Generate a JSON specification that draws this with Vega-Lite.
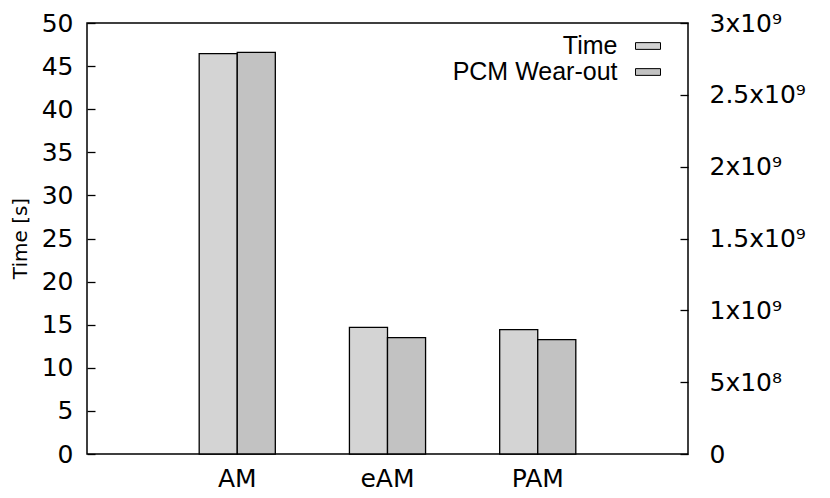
{
  "$schema": "https://vega.github.io/schema/vega-lite/v6.json",
  "description": "Time and PCM wear-out for AM, eAM and PAM.",
  "width": 601,
  "height": 431,
  "autosize": {"type": "none"},
  "padding": {"left": 87, "top": 23, "right": 142, "bottom": 44},
  "title": {
    "text": "Time [s]",
    "orient": "left",
    "anchor": "middle",
    "font": "DejaVu Sans",
    "fontSize": {"expr": "20"},
    "fontWeight": "normal",
    "color": "black",
    "offset": 10,
    "limit": 400
  },
  "config": {
    "font": "DejaVu Sans",
    "title": {"fontSize": 20},
    "view": {"stroke": "black", "strokeWidth": 1.5},
    "axis": {
      "labelColor": "black",
      "tickColor": "black",
      "grid": false,
      "domain": false
    }
  },
  "data": {
    "values": [
      {"cat": "AM", "series": "Time", "value": 46.45},
      {"cat": "eAM", "series": "Time", "value": 14.69},
      {"cat": "PAM", "series": "Time", "value": 14.43},
      {"cat": "AM", "series": "PCM Wear-out", "value": 2796000000},
      {"cat": "eAM", "series": "PCM Wear-out", "value": 810000000},
      {"cat": "PAM", "series": "PCM Wear-out", "value": 796000000}
    ]
  },
  "encoding": {
    "x": {
      "field": "cat",
      "type": "nominal",
      "sort": ["AM", "eAM", "PAM"],
      "scale": {"paddingInner": 0.4933, "paddingOuter": 0.7467},
      "axis": {"title": null, "labelAngle": 0, "ticks": false, "labelFontSize": 25, "labelPadding": 12}
    },
    "xOffset": {
      "field": "series",
      "type": "nominal",
      "scale": {"domain": ["Time", "PCM Wear-out"], "paddingInner": 0, "paddingOuter": 0}
    },
    "color": {
      "field": "series",
      "type": "nominal",
      "scale": {"domain": ["Time", "PCM Wear-out"], "range": ["#d4d4d4", "#c2c2c2"]},
      "legend": {
        "title": null,
        "orient": "none",
        "legendX": 548,
        "legendY": 10,
        "padding": 0,
        "rowPadding": 0,
        "symbolType": "M-1,-0.27H1V0.27H-1Z",
        "symbolSize": 625,
        "symbolStrokeColor": "black",
        "symbolStrokeWidth": 1,
        "symbolOpacity": 1,
        "labelFont": "Liberation Sans",
        "labelFontSize": 25,
        "labelColor": "black",
        "labelAlign": "right",
        "labelOffset": -43.5,
        "labelLimit": 400
      }
    }
  },
  "layer": [
    {
      "transform": [{"filter": "datum.series == 'Time'"}],
      "mark": {"type": "bar", "stroke": "black", "strokeWidth": 1.3, "opacity": 1},
      "encoding": {
        "y": {
          "field": "value",
          "type": "quantitative",
          "title": null,
          "scale": {"domain": [0, 50], "nice": false},
          "axis": {
            "values": [0, 5, 10, 15, 20, 25, 30, 35, 40, 45, 50],
            "labelFontSize": 25,
            "tickSize": -8,
            "tickWidth": 1.3,
            "labelPadding": 22
          }
        }
      }
    },
    {
      "transform": [{"filter": "datum.series == 'PCM Wear-out'"}],
      "mark": {"type": "bar", "stroke": "black", "strokeWidth": 1.3, "opacity": 1},
      "encoding": {
        "y": {
          "field": "value",
          "type": "quantitative",
          "title": null,
          "scale": {"domain": [0, 3000000000], "nice": false},
          "axis": {
            "orient": "right",
            "values": [0, 500000000, 1000000000, 1500000000, 2000000000, 2500000000, 3000000000],
            "labelExpr": "datum.value == 0 ? '0' : datum.value == 500000000 ? '5x10⁸' : format(datum.value / 1000000000, '~g') + 'x10⁹'",
            "labelFontSize": 25,
            "tickSize": -8,
            "tickWidth": 1.3,
            "labelPadding": 29
          }
        }
      }
    }
  ],
  "resolve": {"scale": {"y": "independent"}}
}
